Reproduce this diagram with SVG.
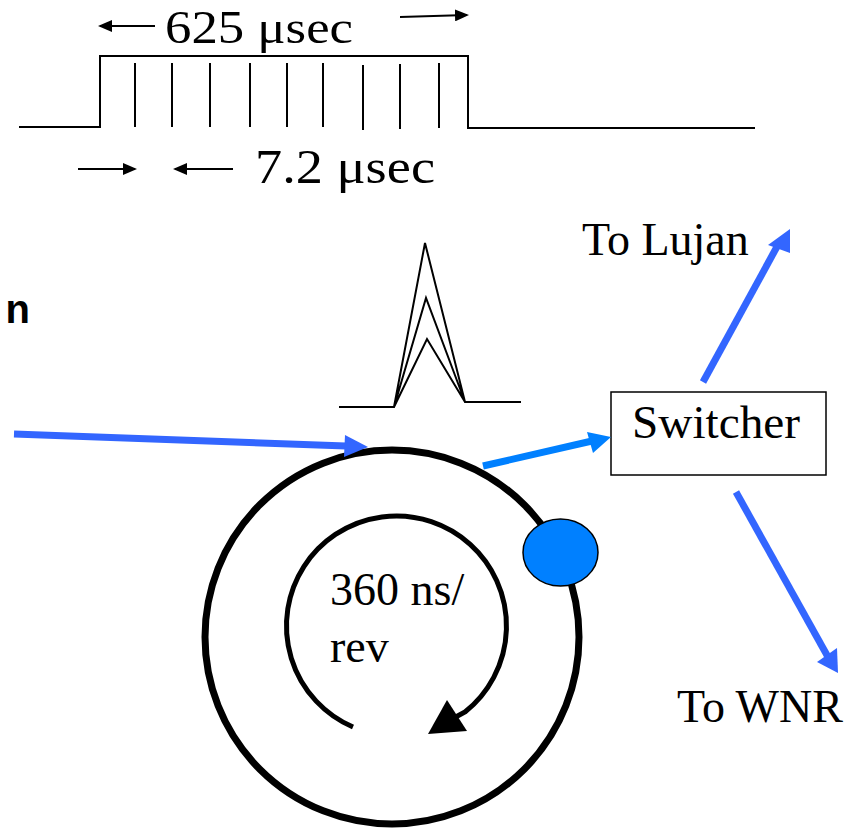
<svg xmlns="http://www.w3.org/2000/svg" width="861" height="830" viewBox="0 0 861 830">
<style>
.t{font-family:"Liberation Serif","Times New Roman",serif;fill:#000}
.w{fill:none;stroke:#000;stroke-width:2}
.k{stroke:#000;stroke-width:2}
.ba{stroke:#3366FF;stroke-width:7;fill:none}
.bb{stroke:#0080FF;stroke-width:7;fill:none}
</style>
<defs>
<marker id="ka" markerWidth="14" markerHeight="12" refX="12" refY="6" orient="auto" markerUnits="userSpaceOnUse"><path d="M0,0 L14,6 L0,12 Z" fill="#000"/></marker>
</defs>
<rect width="861" height="830" fill="#fff"/>
<g id="pulse-train">
<path class="w" d="M19,127 H100 V56 H468 V128 H755"/>
<path class="w" d="M135,63 V127 M172,63 V127 M210,63 V127 M250,63 V127 M287,63 V127 M323,63 V127 M363,65 V130 M400,64 V129 M439,63 V128"/>
<text class="t" x="165" y="43" font-size="46" textLength="188" lengthAdjust="spacingAndGlyphs">625 μsec</text>
<line class="k" x1="155" y1="26" x2="100" y2="26" marker-end="url(#ka)"/>
<line class="k" x1="400" y1="17" x2="467" y2="15" marker-end="url(#ka)"/>
<text class="t" x="255" y="183" font-size="49" textLength="180" lengthAdjust="spacingAndGlyphs">7.2 μsec</text>
<line class="k" x1="78" y1="169" x2="135" y2="169" marker-end="url(#ka)"/>
<line class="k" x1="233" y1="169" x2="175" y2="169" marker-end="url(#ka)"/>
</g>
<g id="peak">
<path class="w" d="M339,407 H394 L425,243 L465,402 H521 M394,407 L426,298 L465,402 M394,407 L427,339 L465,402"/>
</g>
<g id="label-n">
<text x="30" y="323" font-family="'Liberation Sans',Arial,sans-serif" font-weight="bold" font-size="40" text-anchor="end">n</text>
</g>
<g id="ring">
<circle cx="392" cy="637" r="187" fill="none" stroke="#000" stroke-width="7"/>
<path d="M353,727 A110,110 0 1 1 465,712 L452,719" fill="none" stroke="#000" stroke-width="5"/>
<polygon points="428,734 447,700 467,731" fill="#000"/>
<text class="t" x="330" y="605" font-size="46">360 ns/</text>
<text class="t" x="330" y="662" font-size="46">rev</text>
</g>
<g id="bunch">
<ellipse cx="560.5" cy="552.5" rx="37.5" ry="33.5" fill="#0080FF" stroke="#000" stroke-width="1.5"/>
</g>
<g id="switcher">
<rect x="611" y="392" width="215" height="83" fill="#fff" stroke="#000" stroke-width="1.5"/>
<text class="t" x="716" y="438" font-size="46" text-anchor="middle" textLength="168" lengthAdjust="spacingAndGlyphs">Switcher</text>
</g>
<g id="label-lujan"><text class="t" x="582" y="255" font-size="46">To Lujan</text></g>
<g id="label-wnr"><text class="t" x="677" y="722" font-size="46">To WNR</text></g>
<g id="connectors">
<line class="ba" x1="14" y1="434" x2="346" y2="446"/>
<polygon points="368,447 345,435 344,457" fill="#3366FF"/>
<line class="bb" x1="483" y1="466" x2="592" y2="441"/>
<polygon points="611,437 587,432 593,453" fill="#0080FF"/>
<line class="ba" x1="703" y1="382" x2="779" y2="243"/>
<polygon points="790,229 768,245 790,253" fill="#3366FF"/>
<line class="ba" x1="736" y1="492" x2="828" y2="657"/>
<polygon points="838,673 817,662 837,648" fill="#3366FF"/>
</g>
</svg>
